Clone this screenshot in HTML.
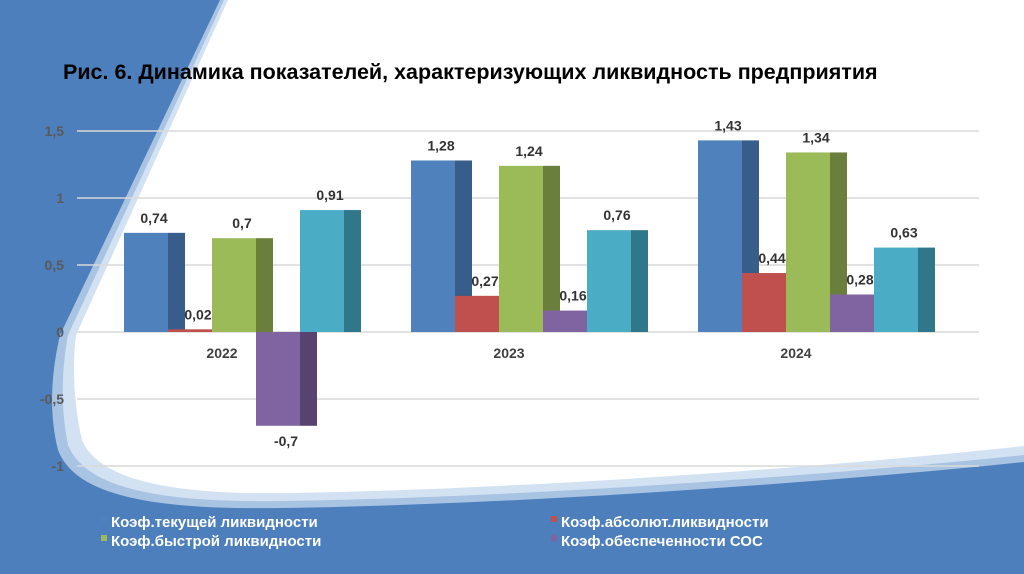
<!DOCTYPE html>
<html><head><meta charset="utf-8"><style>
html,body{margin:0;padding:0;width:1024px;height:574px;overflow:hidden;background:#4d7fbd;}
svg{display:block;}
text{font-family:"Liberation Sans","DejaVu Sans",sans-serif;}
</style></head><body>
<svg width="1024" height="574" viewBox="0 0 1024 574">
<rect x="0" y="0" width="1024" height="574" fill="#4d7fbd"/>
<path d="M220,0 L1024,0 L1024,462 C800,485 500,505 280,508 C150,510 75,495 58,450 C48,410 52,370 60,335 Z" fill="#a9c3e2"/>
<path d="M224,0 L1024,0 L1024,455 C800,478 500,498 282,501 C155,503 85,487 68,445 C60,405 62,368 68,335 Z" fill="#d3e2f2"/>
<path d="M228,0 L1024,0 L1024,446 C800,470 500,490 285,493 C165,495 98,478 82,440 C74,405 72,368 76,335 Z" fill="#ffffff"/>
<text x="63" y="79" font-size="21.5" font-weight="bold" fill="#000">Рис. 6. Динамика показателей, характеризующих ликвидность предприятия</text>
<g id="grid"></g>
<g id="bars"></g>
<g id="labels"></g>
<g font-size="15" font-weight="bold" fill="#fff">
<rect x="101" y="516" width="6" height="6" fill="#4f81bd"/>
<text x="111" y="527" fill="#fff">Коэф.текущей ликвидности</text>
<rect x="551" y="516" width="6" height="6" fill="#c0504d"/>
<text x="561" y="527" fill="#fff">Коэф.абсолют.ликвидности</text>
<rect x="101" y="535" width="6" height="6" fill="#9bbb59"/>
<text x="111" y="546" fill="#fff">Коэф.быстрой ликвидности</text>
<rect x="551" y="535" width="6" height="6" fill="#8064a2"/>
<text x="561" y="546" fill="#fff">Коэф.обеспеченности СОС</text>
</g>
</svg>
<script>
const categories = ["2022","2023","2024"];
const currentRatio = [0.74,1.28,1.43];
const absoluteRatio = [0.02,0.27,0.44];
const quickRatio = [0.7,1.24,1.34];
const sosRatio = [-0.7,0.16,0.28];
const extraRatio = [0.91,0.76,0.63];
const tickValues = [1.5,1,0.5,0,-0.5,-1];
const tickLabels = ["1,5","1","0,5","0","-0,5","-1"];

const series = [currentRatio,absoluteRatio,quickRatio,sosRatio,extraRatio];
const seriesNames = ["current","absolute","quick","sos","extra"];
const fronts = ["#4f81bd","#c0504d","#9bbb59","#8064a2","#4bacc6"];
const sides = ["#385d8a","#8c3836","#6a7f3c","#574370","#31778a"];
const NS="http://www.w3.org/2000/svg";
function y(v){return 332 - v*134;}
function groupX(i){return 124 + i*287;}
const BW=44, SW=17;
function mk(tag,attrs,parent){const e=document.createElementNS(NS,tag);for(const k in attrs)e.setAttribute(k,attrs[k]);parent.appendChild(e);return e;}
const grid=document.getElementById('grid'), bars=document.getElementById('bars'), labels=document.getElementById('labels');
tickValues.forEach((v,i)=>{
  const l=mk('line',{x1:77,x2:979,y1:y(v),y2:y(v),stroke:'#d9d9d9','stroke-width':1.5},grid);
  
  
  const t=mk('text',{x:64,y:y(v)+5,'text-anchor':'end','font-size':14,'font-weight':'bold',fill:'#5a5a5a'},grid);
  t.textContent=tickLabels[i];
  
  
});
categories.forEach((c,i)=>{
  const t=mk('text',{x:groupX(i)+98,y:358,'text-anchor':'middle','font-size':14,'font-weight':'bold',fill:'#404040'},labels);
  t.textContent=c;
  
  
  series.forEach((s,j)=>{
    const v=s[i];
    const x=groupX(i)+j*BW;
    const top=Math.min(y(v),y(0)), h=Math.abs(y(v)-y(0));
    const sd=mk('rect',{x:x+BW,y:top,width:SW,height:h,fill:sides[j]},bars);
    
    
    const r=mk('rect',{x:x,y:top,width:BW,height:h,fill:fronts[j]},bars);
    
    
    const ly = v>=0 ? y(v)-10 : y(v)+20;
    const lt=mk('text',{x:x+30,y:ly,'text-anchor':'middle','font-size':14,'font-weight':'bold',fill:'#333'},labels);
    lt.textContent=String(v).replace('.',',');
    
    
  });
});
</script>
</body></html>
